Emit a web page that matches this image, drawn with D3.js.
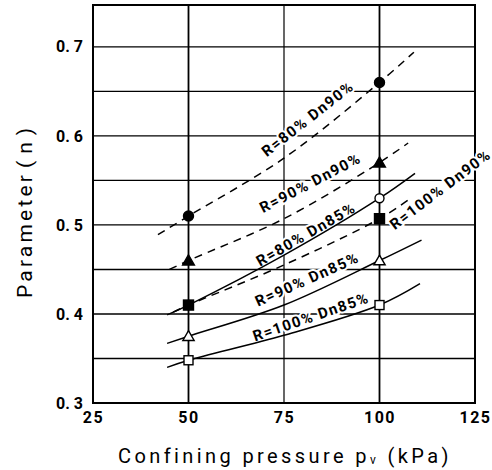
<!DOCTYPE html>
<html>
<head>
<meta charset="utf-8">
<script src="https://cdn.jsdelivr.net/npm/d3@7"></script>
<style>
  body { margin: 0; background: #fff; }
  svg { display: block; }
  text { font-family: Roboto, "DejaVu Sans", sans-serif; fill: #000; }
</style>
</head>
<body>
<svg width="492" height="470"></svg>
<script>
// ticks / grid
const xTicks = [25, 50, 75, 100, 125];
const yTicks = [0.3, 0.4, 0.5, 0.6, 0.7];
const xGrid = [50, 75, 100];
const yGrid = [0.35, 0.4, 0.45, 0.5, 0.55, 0.6, 0.65, 0.7];

// series
const names = ['R=80% Dn90%', 'R=90% Dn90%', 'R=100% Dn90%', 'R=80% Dn85%', 'R=90% Dn85%', 'R=100% Dn85%'];
const dashed = [true, true, true, false, false, false];
const markers = ['circle', 'triangle', 'square', 'circle', 'triangle', 'square'];
const filled = [true, true, true, false, false, false];
const curveX = [
  [42, 50, 75, 100, 109],
  [45, 50, 75, 100, 107.5],
  [46, 50, 75, 100, 108.5],
  [44.4, 50, 75, 100, 109.3],
  [44.4, 50, 75, 100, 111],
  [44.4, 50, 75, 100, 110.6]
];
const curveN = [
  [0.489, 0.51, 0.575, 0.66, 0.694],
  [0.45, 0.46, 0.507, 0.57, 0.592],
  [0.402, 0.41, 0.455, 0.507, 0.531],
  [0.399, 0.41, 0.466, 0.53, 0.558],
  [0.367, 0.375, 0.41, 0.46, 0.483],
  [0.34, 0.348, 0.376, 0.41, 0.434]
];
const pointX = [50, 100];
const pointN = [
  [0.51, 0.66],
  [0.46, 0.57],
  [0.41, 0.507],
  [0.41, 0.53],
  [0.375, 0.46],
  [0.348, 0.41]
];

// label placement (data coords of text start, angle in degrees)
const labelPos = [
  { x: 70.5, n: 0.576, a: -38 },
  { x: 69.5, n: 0.513, a: -27.5 },
  { x: 104, n: 0.494, a: -37 },
  { x: 68.7, n: 0.453, a: -30 },
  { x: 68.2, n: 0.408, a: -24 },
  { x: 67.4, n: 0.369, a: -19 }
];

const margin = { left: 93, right: 17, top: 5, bottom: 67 };
const svg = d3.select('svg');
const width = +svg.attr('width');
const height = +svg.attr('height');
const innerWidth = width - margin.left - margin.right;
const innerHeight = height - margin.top - margin.bottom;

const xScale = d3.scaleLinear().domain([25, 125]).range([0, innerWidth]);
const yScale = d3.scaleLinear().domain([0.3, 0.747]).range([innerHeight, 0]);

const g = svg.append('g')
  .attr('transform', `translate(${margin.left}, ${margin.top})`);

// grid
g.selectAll('.hgrid').data(yGrid)
  .enter().append('line')
  .attr('x1', 0).attr('x2', innerWidth)
  .attr('y1', d => yScale(d)).attr('y2', d => yScale(d))
  .attr('stroke', '#000').attr('stroke-width', 1.4);
g.selectAll('.vgrid').data(xGrid)
  .enter().append('line')
  .attr('y1', 0).attr('y2', innerHeight)
  .attr('x1', d => xScale(d)).attr('x2', d => xScale(d))
  .attr('stroke', '#000').attr('stroke-width', d => d === 75 ? 1.2 : 1.8);

g.append('rect')
  .attr('width', innerWidth).attr('height', innerHeight)
  .attr('fill', 'none').attr('stroke', '#000').attr('stroke-width', 2);

// axes (labels only)
const xAxis = d3.axisBottom(xScale).tickValues(xTicks).tickSize(0).tickPadding(9);
const yAxis = d3.axisLeft(yScale).tickValues(yTicks).tickSize(0).tickPadding(10)
  .tickFormat(d => d3.format('.1f')(d).replace('.', '. '));

const xAxisG = g.append('g').attr('transform', `translate(0, ${innerHeight})`).call(xAxis);
const yAxisG = g.append('g').call(yAxis);
[xAxisG, yAxisG].forEach(a => {
  a.select('.domain').remove();
  a.attr('font-size', 16).attr('font-family', 'Roboto, sans-serif').attr('font-weight', 'bold');
});
xAxisG.selectAll('.tick text').attr('letter-spacing', 1.5);

// curves
const line = d3.line()
  .x(d => xScale(d[0]))
  .y(d => yScale(d[1]))
  .curve(d3.curveCatmullRom.alpha(0.5));

// labels (white halo breaks the grid behind them), drawn before the curves
names.forEach((name, i) => {
  const p = labelPos[i];
  g.append('text')
    .attr('transform', `translate(${xScale(p.x)}, ${yScale(p.n)}) rotate(${p.a})`)
    .attr('font-size', 15)
    .attr('font-weight', 'bold')
    .attr('letter-spacing', 1.4)
    .attr('stroke', '#fff')
    .attr('stroke-width', 4)
    .attr('paint-order', 'stroke')
    .text(name);
});

names.forEach((name, i) => {
  const pts = curveX[i].map((x, j) => [x, curveN[i][j]]);
  g.append('path')
    .datum(pts)
    .attr('d', line)
    .attr('fill', 'none')
    .attr('stroke', '#000')
    .attr('stroke-width', 1.5)
    .attr('stroke-dasharray', dashed[i] ? '8,6' : null);
});

// markers: open ones first, filled on top
const order = [3, 4, 5, 0, 1, 2];
order.forEach(i => {
  pointX.forEach((x, j) => {
    const cx = xScale(x), cy = yScale(pointN[i][j]);
    const fill = filled[i] ? '#000' : '#fff';
    let m;
    if (markers[i] === 'circle') {
      m = g.append('circle').attr('cx', cx).attr('cy', cy).attr('r', filled[i] ? 5 : 4.5);
    } else if (markers[i] === 'square') {
      const s = filled[i] ? 10 : 9;
      m = g.append('rect').attr('x', cx - s / 2).attr('y', cy - s / 2).attr('width', s).attr('height', s);
    } else {
      m = g.append('path').attr('d', d3.symbol(d3.symbolTriangle, filled[i] ? 60 : 55)())
        .attr('transform', `translate(${cx}, ${cy + 1})`);
    }
    m.attr('fill', fill).attr('stroke', '#000').attr('stroke-width', 1.4);
  });
});

// axis titles
const xt = svg.append('text')
  .attr('x', 118).attr('y', 463)
  .attr('font-size', 20)
  .attr('letter-spacing', 3.4);
xt.append('tspan').text('Confining pressure p');
xt.append('tspan').attr('font-size', 12).attr('dy', 1).text('v');
xt.append('tspan').attr('dy', -1).text(' (kPa)');

svg.append('text')
  .attr('transform', 'translate(32, 298) rotate(-90)')
  .attr('font-size', 21)
  .attr('letter-spacing', 3.2)
  .text('Parameter');
svg.append('text')
  .attr('transform', 'translate(32, 168) rotate(-90)')
  .attr('font-size', 21)
  .attr('letter-spacing', 7)
  .text('(n)');
</script>
</body>
</html>
